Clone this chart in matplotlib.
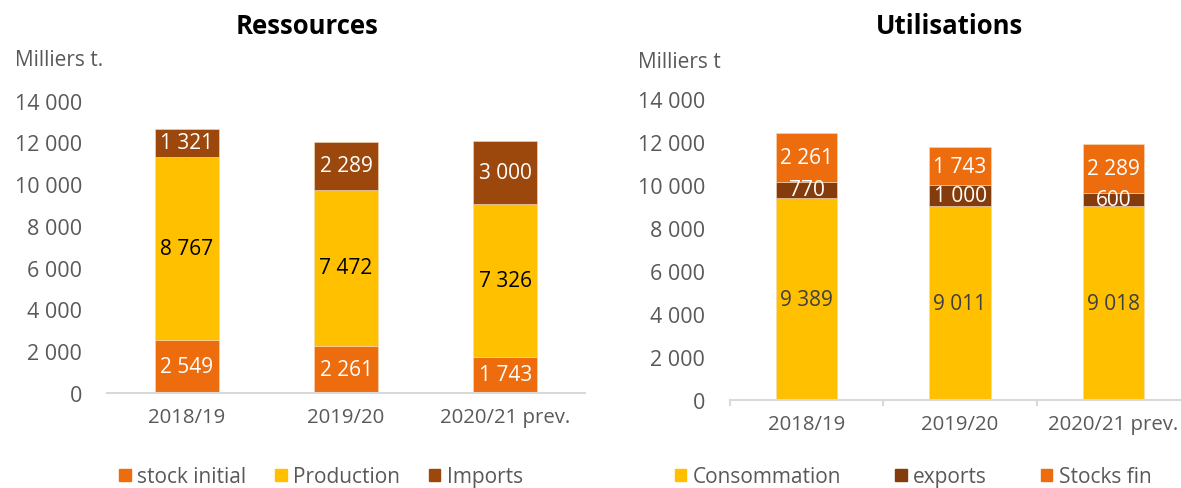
import matplotlib.pyplot as plt
from matplotlib.patches import Patch

# data (milliers de tonnes)
campagnes = ['2018/19', '2019/20', '2020/21 prev.']

stock_initial = [2549, 2261, 1743]
production = [8767, 7472, 7326]
imports = [1321, 2289, 3000]

consommation = [9389, 9011, 9018]
exports = [770, 1000, 600]
stocks_fin = [2261, 1743, 2289]

ORANGE = '#EC6C0E'
YELLOW = '#FFC000'
BROWN = '#9C480C'
DARK_BROWN = '#843C0C'
GREY = '#595959'
AXIS = '#D9D9D9'

plt.rcParams['font.family'] = ['Open Sans', 'DejaVu Sans']


def fmt(v):
    return f'{v:,}'.replace(',', ' ')


def stacked(ax, series, colors, text_colors):
    x = range(len(campagnes))
    bottom = [0] * len(campagnes)
    for vals, col, tcol in zip(series, colors, text_colors):
        bars = ax.bar(x, vals, width=0.4, bottom=bottom, color=col,
                      edgecolor='#F6D9B8', linewidth=0.4)
        ax.bar_label(bars, labels=[fmt(v) for v in vals], label_type='center',
                     color=tcol, fontsize=15)
        bottom = [b + v for b, v in zip(bottom, vals)]


def style(ax, ticks):
    ax.set_xlim(-0.5, 2.5)
    ax.set_ylim(0, 14000)
    ax.set_yticks(range(0, 14001, 2000))
    ax.set_yticklabels([fmt(v) for v in range(0, 14001, 2000)])
    ax.set_xticks(range(len(campagnes)))
    ax.set_xticklabels(campagnes)
    for s in ['top', 'right', 'left']:
        ax.spines[s].set_visible(False)
    ax.spines['bottom'].set_color(AXIS)
    ax.spines['bottom'].set_linewidth(1.5)
    ax.tick_params(axis='y', length=0, pad=18, labelsize=15.5, labelcolor=GREY)
    ax.tick_params(axis='x', length=0, pad=10, labelsize=14.7, labelcolor=GREY)
    if ticks:
        ax.set_xticks([-0.5, 0.5, 1.5, 2.5], minor=True)
        ax.tick_params(axis='x', which='minor', length=4, width=1.5, color=AXIS)


fig = plt.figure(figsize=(11.81, 4.89), dpi=100)

# Ressources
ax1 = fig.add_axes([107 / 1181, 95 / 489, 478 / 1181, 292.5 / 489])
stacked(ax1, [stock_initial, production, imports], [ORANGE, YELLOW, BROWN],
        ['white', 'black', 'white'])
style(ax1, ticks=False)
fig.text(307 / 1181, 1 - 27 / 489, 'Ressources', ha='center', va='center',
         fontsize=18.5, fontweight='bold')
fig.text(15 / 1181, 1 - 61 / 489, 'Milliers t.', ha='left', va='center',
         fontsize=15, color=GREY)
fig.legend(handles=[Patch(color=ORANGE, label='stock initial'),
                    Patch(color=YELLOW, label='Production'),
                    Patch(color=BROWN, label='Imports')],
           loc='center', bbox_to_anchor=(321 / 1181, 1 - 478 / 489), ncol=3,
           frameon=False, fontsize=15, labelcolor=GREY, handlelength=0.55,
           handleheight=0.55, handletextpad=0.3, columnspacing=1.4)

# Utilisations
ax2 = fig.add_axes([730 / 1181, 88 / 489, 460 / 1181, 301 / 489])
stacked(ax2, [consommation, exports, stocks_fin], [YELLOW, DARK_BROWN, ORANGE],
        ['#404040', 'white', 'white'])
style(ax2, ticks=True)
fig.text(950 / 1181, 1 - 27 / 489, 'Utilisations', ha='center', va='center',
         fontsize=18.5, fontweight='bold')
fig.text(638 / 1181, 1 - 62 / 489, 'Milliers t', ha='left', va='center',
         fontsize=15, color=GREY)
fig.legend(handles=[Patch(color=YELLOW, label='Consommation'),
                    Patch(color=DARK_BROWN, label='exports'),
                    Patch(color=ORANGE, label='Stocks fin')],
           loc='center', bbox_to_anchor=(913 / 1181, 1 - 478 / 489), ncol=3,
           frameon=False, fontsize=15, labelcolor=GREY, handlelength=0.55,
           handleheight=0.55, handletextpad=0.3, columnspacing=2.6)

fig.savefig('out.png', dpi=100)
